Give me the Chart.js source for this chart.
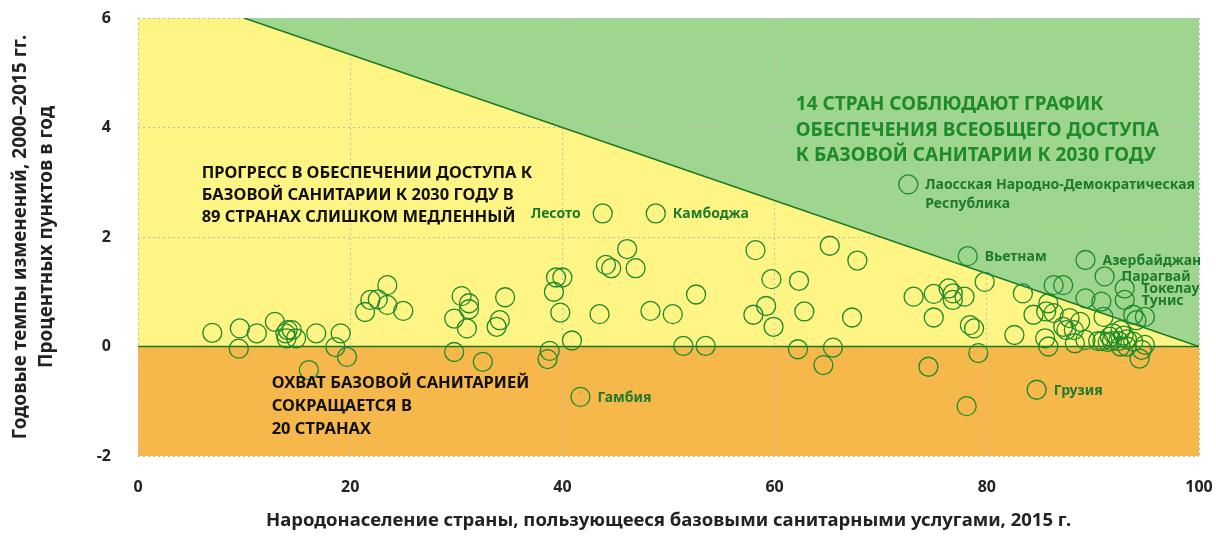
<!DOCTYPE html>
<html>
<head>
<meta charset="utf-8">
<script src="https://cdn.jsdelivr.net/npm/chart.js@4.4.1/dist/chart.umd.min.js"></script>
<style>
  html, body { margin: 0; padding: 0; background: #fff; }
  #wrap { width: 1216px; height: 536px; }
</style>
</head>
<body>
<div id="wrap"><canvas id="chart" width="1216" height="536"></canvas></div>
<script>
// Данные: доля населения с базовыми санитарными услугами (x) и годовой темп изменений (y)
const coverage = [
  7.0, 9.6, 9.5, 11.2, 12.9, 13.9, 14.1, 14.5, 14.0, 14.9,
  16.8, 19.1, 18.6, 19.7, 16.1, 21.4, 21.9, 22.6, 23.5, 23.5,
  25.0, 29.8, 30.5, 31.2, 31.2, 31.0, 29.8, 32.5, 34.1, 33.8,
  34.6, 39.4, 40.0, 39.2, 39.8, 40.9, 38.8, 38.6, 43.8, 48.8,
  46.1, 44.1, 44.6, 46.9, 43.5, 48.3, 50.4, 52.6, 51.4, 53.5,
  41.7, 58.2, 59.7, 59.2, 58.0, 59.9, 62.3, 62.8, 62.2, 64.6,
  65.5, 65.2, 67.8, 67.3, 72.6, 78.2, 79.8, 73.1, 75.0, 76.4,
  76.8, 76.8, 77.9, 75.0, 78.4, 78.8, 79.2, 74.5, 78.1, 84.7,
  83.4, 82.6, 89.3, 91.1, 93.0, 93.0, 86.3, 87.2, 89.3, 90.8,
  85.8, 85.6, 86.3, 84.4, 87.8, 88.8, 87.2, 87.5, 88.2, 91.0,
  93.8, 94.9, 94.1, 92.6, 91.9, 91.6, 92.9, 93.2, 85.5, 85.8,
  88.3, 90.5, 90.9, 91.4, 91.8, 92.4, 92.6, 93.2, 93.8, 94.9,
  94.6, 94.4, 89.3
];
const changeRate = [
  0.25, 0.33, -0.04, 0.24, 0.45, 0.24, 0.30, 0.30, 0.15, 0.15,
  0.24, 0.24, -0.01, -0.19, -0.43, 0.63, 0.85, 0.86, 1.12, 0.76,
  0.65, 0.51, 0.92, 0.79, 0.68, 0.33, -0.10, -0.28, 0.48, 0.36,
  0.90, 1.26, 1.26, 1.00, 0.62, 0.11, -0.08, -0.23, 2.43, 2.43,
  1.78, 1.49, 1.43, 1.43, 0.59, 0.65, 0.59, 0.95, 0.01, 0.01,
  -0.92, 1.76, 1.23, 0.74, 0.58, 0.36, 1.20, 0.64, -0.05, -0.34,
  -0.02, 1.84, 1.57, 0.53, 2.96, 1.65, 1.18, 0.91, 0.96, 1.06,
  0.97, 0.85, 0.91, 0.53, 0.39, 0.33, -0.12, -0.37, -1.09, -0.79,
  0.97, 0.21, 1.58, 1.28, 1.06, 0.85, 1.12, 1.12, 0.88, 0.82,
  0.79, 0.64, 0.61, 0.58, 0.52, 0.45, 0.36, 0.30, 0.30, 0.54,
  0.58, 0.54, 0.48, 0.30, 0.24, 0.18, 0.20, 0.13, 0.15, 0.00,
  0.06, 0.10, 0.10, 0.08, 0.10, 0.10, 0.00, 0.00, 0.09, 0.03,
  -0.06, -0.22, 0.12
];

// Подписанные страны (индекс точки)
const namedIdx = [38, 39, 50, 64, 65, 79, 82, 83, 84, 85];
const namedText = [
  ['Лесото'], ['Камбоджа'], ['Гамбия'],
  ['Лаосская Народно-Демократическая', 'Республика'],
  ['Вьетнам'], ['Грузия'], ['Азербайджан'], ['Парагвай'], ['Токелау'], ['Тунис']
];

// Граница графика 2030 года и нулевая линия
const targetX = [10, 100];
const targetY = [6, 0];
const zeroX = [0, 100];
const zeroY = [0, 0];

const xTicks = [0, 20, 40, 60, 80, 100];
const yTicks = [-2, 0, 2, 4, 6];

const GREEN = '#1d8a2c';
const LABEL_GREEN = '#1d7a2c';

// Фоновые зоны
const zonesPlugin = {
  id: 'zones',
  beforeDraw(chart) {
    const { ctx, scales: { x, y } } = chart;
    const px = v => x.getPixelForValue(v);
    const py = v => y.getPixelForValue(v);
    ctx.save();
    // жёлтая
    ctx.fillStyle = '#fff584';
    ctx.beginPath();
    ctx.moveTo(px(0), py(0));
    ctx.lineTo(px(0), py(6));
    ctx.lineTo(px(targetX[0]), py(targetY[0]));
    ctx.lineTo(px(targetX[1]), py(targetY[1]));
    ctx.closePath();
    ctx.fill();
    // зелёная
    ctx.fillStyle = '#9fd68f';
    ctx.beginPath();
    ctx.moveTo(px(targetX[0]), py(targetY[0]));
    ctx.lineTo(px(100), py(6));
    ctx.lineTo(px(targetX[1]), py(targetY[1]));
    ctx.closePath();
    ctx.fill();
    // оранжевая
    ctx.fillStyle = '#f6b84b';
    ctx.fillRect(px(0), py(0), px(100) - px(0), py(-2) - py(0));
    ctx.restore();
  }
};

// Надписи
const notes = [
  { x: 6, y: 3.17, color: '#111', font: 'bold 16.5px "Noto Sans"', lh: 22,
    lines: ['ПРОГРЕСС В ОБЕСПЕЧЕНИИ ДОСТУПА К', 'БАЗОВОЙ САНИТАРИИ К 2030 ГОДУ В', '89 СТРАНАХ СЛИШКОМ МЕДЛЕННЫЙ'] },
  { x: 62, y: 4.41, color: GREEN, font: 'bold 19px "Noto Sans"', lh: 25.5,
    lines: ['14 СТРАН СОБЛЮДАЮТ ГРАФИК', 'ОБЕСПЕЧЕНИЯ ВСЕОБЩЕГО ДОСТУПА', 'К БАЗОВОЙ САНИТАРИИ К 2030 ГОДУ'] },
  { x: 12.6, y: -0.68, color: '#111', font: 'bold 16.5px "Noto Sans"', lh: 23,
    lines: ['ОХВАТ БАЗОВОЙ САНИТАРИЕЙ', 'СОКРАЩАЕТСЯ В', '20 СТРАНАХ'] }
];

const notesPlugin = {
  id: 'notes',
  afterDatasetsDraw(chart) {
    const { ctx, scales: { x, y } } = chart;
    ctx.save();
    ctx.textBaseline = 'middle';
    notes.forEach(n => {
      ctx.font = n.font;
      ctx.fillStyle = n.color;
      ctx.textAlign = 'left';
      n.lines.forEach((t, i) => {
        ctx.fillText(t, x.getPixelForValue(n.x), y.getPixelForValue(n.y) + i * n.lh);
      });
    });
    // подписи стран
    ctx.font = 'bold 14px "Noto Sans"';
    ctx.fillStyle = LABEL_GREEN;
    namedIdx.forEach((idx, k) => {
      const cx = x.getPixelForValue(coverage[idx]);
      const cy = y.getPixelForValue(changeRate[idx]);
      const left = namedText[k][0] === 'Лесото';
      ctx.textAlign = left ? 'right' : 'left';
      namedText[k].forEach((t, i) => {
        ctx.fillText(t, left ? cx - 22 : cx + 17, cy + 1 + i * 19);
      });
    });
    ctx.restore();
  }
};

const ctx = document.getElementById('chart').getContext('2d');
const chart = new Chart(ctx, {
  type: 'scatter',
  data: {
    datasets: [
      {
        type: 'line',
        data: targetX.map((v, i) => ({ x: v, y: targetY[i] })),
        borderColor: '#18781f',
        borderWidth: 1.5,
        pointRadius: 0,
        order: 2
      },
      {
        type: 'line',
        data: zeroX.map((v, i) => ({ x: v, y: zeroY[i] })),
        borderColor: '#18781f',
        borderWidth: 1.5,
        pointRadius: 0,
        order: 2
      },
      {
        data: coverage.map((v, i) => ({ x: v, y: changeRate[i] })),
        pointRadius: 9.5,
        pointHoverRadius: 9.5,
        pointBackgroundColor: 'rgba(0,0,0,0)',
        pointBorderColor: GREEN,
        pointBorderWidth: 1.3,
        order: 1
      }
    ]
  },
  options: {
    responsive: false,
    animation: false,
    layout: { padding: { top: 18, right: 17, left: 0, bottom: 0 } },
    plugins: { legend: { display: false }, tooltip: { enabled: false } },
    scales: {
      x: {
        type: 'linear',
        min: 0, max: 100,
        afterBuildTicks: s => { s.ticks = xTicks.map(v => ({ value: v })); },
        afterFit: s => { s.height = 80; s.paddingLeft = 0; s.paddingRight = 0; },
        grid: { color: '#bdbdbd', drawTicks: false },
        border: { display: false, dash: [2, 3] },
        ticks: { padding: 22, color: '#222', font: { family: 'Noto Sans', weight: 'bold', size: 16 } },
        title: {
          display: true,
          text: 'Народонаселение страны, пользующееся базовыми санитарными услугами, 2015 г.',
          color: '#222',
          font: { family: 'Noto Sans', weight: 'bold', size: 18.5 },
          padding: { top: 10 }
        }
      },
      y: {
        type: 'linear',
        min: -2, max: 6,
        afterBuildTicks: s => { s.ticks = yTicks.map(v => ({ value: v })); },
        afterFit: s => { s.width = 138; s.paddingTop = 0; s.paddingBottom = 0; },
        grid: { color: '#bdbdbd', drawTicks: false },
        border: { display: false, dash: [2, 3] },
        ticks: { padding: 27, color: '#222', font: { family: 'Noto Sans', weight: 'bold', size: 16 } },
        title: {
          display: true,
          text: ['Годовые темпы изменений, 2000–2015 гг.', 'Процентных пунктов в год'],
          color: '#222',
          font: { family: 'Noto Sans', weight: 'bold', size: 19, lineHeight: 1.38 },
          padding: { top: 7, bottom: 0 }
        }
      }
    }
  },
  plugins: [zonesPlugin, notesPlugin]
});
</script>
</body>
</html>
